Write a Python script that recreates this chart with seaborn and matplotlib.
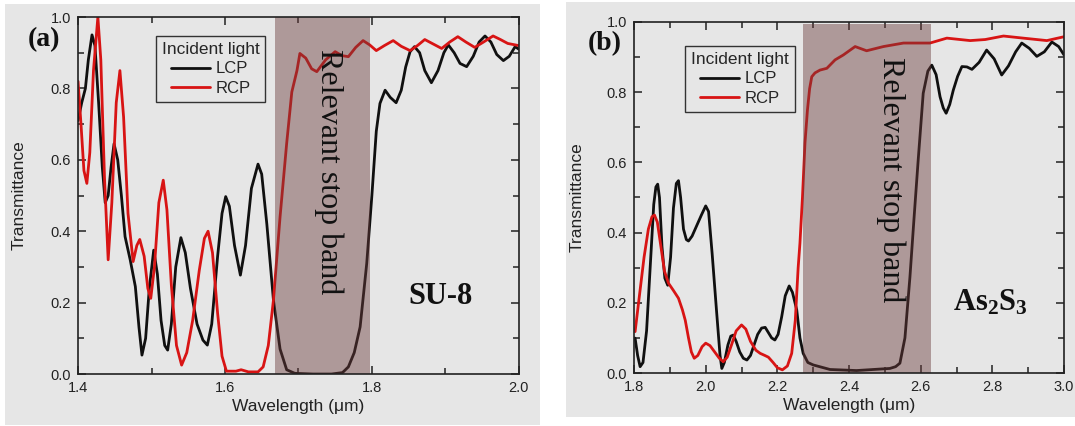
import numpy as np
import pandas as pd
import matplotlib
matplotlib.use("Agg")
import matplotlib.pyplot as plt
from matplotlib.patches import Rectangle
from matplotlib.ticker import MultipleLocator, FormatStrFormatter
import seaborn as sns

# ---- (a) SU-8 ----
wl_a_lcp = [1.400, 1.405, 1.410, 1.414, 1.419, 1.423, 1.428, 1.433, 1.437, 1.441, 1.445,
            1.449, 1.454, 1.459, 1.464, 1.471, 1.478, 1.483, 1.487, 1.492, 1.497, 1.503,
            1.508, 1.513, 1.518, 1.522, 1.527, 1.533, 1.540, 1.546, 1.553, 1.562, 1.570,
            1.576, 1.582, 1.590, 1.596, 1.601, 1.606, 1.613, 1.621, 1.628, 1.636, 1.645,
            1.650, 1.657, 1.666, 1.675, 1.684, 1.695, 1.720, 1.745, 1.760, 1.768, 1.776,
            1.784, 1.793, 1.800, 1.806, 1.811, 1.818, 1.825, 1.833, 1.840, 1.846, 1.852,
            1.858, 1.865, 1.872, 1.881, 1.890, 1.898, 1.904, 1.912, 1.920, 1.929, 1.938,
            1.946, 1.954, 1.962, 1.970, 1.979, 1.987, 1.995, 2.000]
t_a_lcp = [0.71, 0.76, 0.80, 0.88, 0.95, 0.92, 0.76, 0.58, 0.48, 0.50, 0.58,
           0.645, 0.60, 0.50, 0.385, 0.32, 0.245, 0.13, 0.053, 0.10, 0.24, 0.347,
           0.28, 0.15, 0.08, 0.067, 0.14, 0.30, 0.382, 0.34, 0.24, 0.14, 0.095,
           0.081, 0.14, 0.33, 0.45, 0.497, 0.47, 0.36, 0.277, 0.36, 0.52, 0.588,
           0.56, 0.42, 0.207, 0.07, 0.012, 0.002, 0.0, 0.0, 0.004, 0.02, 0.06,
           0.132, 0.31, 0.50, 0.68, 0.758, 0.795, 0.775, 0.76, 0.795, 0.86, 0.903,
           0.917, 0.90, 0.85, 0.816, 0.85, 0.90, 0.922, 0.90, 0.87, 0.861, 0.89,
           0.93, 0.947, 0.93, 0.895, 0.878, 0.89, 0.917, 0.91]

wl_a_rcp = [1.400, 1.404, 1.408, 1.412, 1.416, 1.421, 1.427, 1.431, 1.436, 1.441, 1.446,
            1.452, 1.457, 1.462, 1.468, 1.475, 1.480, 1.484, 1.490, 1.495, 1.499, 1.504,
            1.510, 1.516, 1.521, 1.527, 1.534, 1.541, 1.548, 1.556, 1.565, 1.572, 1.577,
            1.583, 1.590, 1.596, 1.602, 1.615, 1.622, 1.632, 1.645, 1.652, 1.659, 1.666,
            1.675, 1.684, 1.691, 1.698, 1.702, 1.710, 1.718, 1.725, 1.737, 1.750, 1.759,
            1.768, 1.778, 1.788, 1.797, 1.806, 1.817, 1.829, 1.840, 1.852, 1.862, 1.872,
            1.883, 1.895, 1.906, 1.917, 1.928, 1.940, 1.952, 1.965, 1.975, 1.985, 2.000]
t_a_rcp = [0.82, 0.70, 0.57, 0.534, 0.62, 0.85, 1.0, 0.88, 0.55, 0.32, 0.48,
           0.76, 0.85, 0.72, 0.45, 0.315, 0.36, 0.377, 0.33, 0.24, 0.212, 0.30,
           0.48, 0.543, 0.46, 0.25, 0.08, 0.025, 0.06, 0.15, 0.29, 0.38, 0.40,
           0.34, 0.17, 0.05, 0.008, 0.008, 0.012, 0.006, 0.006, 0.02, 0.08, 0.207,
           0.44, 0.646, 0.79, 0.85, 0.898, 0.885, 0.855, 0.847, 0.88, 0.903, 0.892,
           0.889, 0.915, 0.934, 0.922, 0.906, 0.92, 0.934, 0.918, 0.906, 0.92, 0.937,
           0.925, 0.912, 0.93, 0.945, 0.93, 0.915, 0.93, 0.947, 0.937, 0.926, 0.92]

# ---- (b) As2S3 ----
wl_b_lcp = [1.800, 1.803, 1.810, 1.817, 1.825, 1.835, 1.845, 1.855, 1.861, 1.866, 1.871,
            1.878, 1.886, 1.894, 1.902, 1.910, 1.918, 1.924, 1.930, 1.938, 1.946, 1.952,
            1.962, 1.975, 1.988, 2.000, 2.008, 2.018, 2.030, 2.040, 2.045, 2.052, 2.062,
            2.070, 2.077, 2.085, 2.095, 2.105, 2.115, 2.125, 2.135, 2.145, 2.156, 2.166,
            2.175, 2.184, 2.193, 2.202, 2.212, 2.222, 2.233, 2.242, 2.254, 2.263, 2.272,
            2.285, 2.300, 2.347, 2.421, 2.514, 2.530, 2.542, 2.556, 2.570, 2.582, 2.593,
            2.607, 2.620, 2.631, 2.643, 2.654, 2.663, 2.671, 2.681, 2.691, 2.703, 2.715,
            2.729, 2.743, 2.763, 2.784, 2.805, 2.826, 2.845, 2.865, 2.882, 2.903, 2.924,
            2.945, 2.966, 2.985, 3.000]
t_b_lcp = [0.10, 0.099, 0.05, 0.018, 0.03, 0.12, 0.30, 0.48, 0.53, 0.538, 0.50,
           0.36, 0.27, 0.25, 0.33, 0.47, 0.54, 0.548, 0.50, 0.41, 0.38, 0.376,
           0.39, 0.42, 0.45, 0.476, 0.46, 0.34, 0.18, 0.05, 0.013, 0.03, 0.08,
           0.105, 0.108, 0.09, 0.06, 0.042, 0.037, 0.05, 0.08, 0.11, 0.128, 0.13,
           0.115, 0.10, 0.094, 0.11, 0.16, 0.22, 0.248, 0.23, 0.18, 0.10, 0.056,
           0.03, 0.023, 0.01, 0.007, 0.013, 0.018, 0.028, 0.10, 0.274, 0.45, 0.607,
           0.797, 0.86, 0.877, 0.85, 0.787, 0.755, 0.74, 0.765, 0.806, 0.845, 0.873,
           0.872, 0.865, 0.885, 0.92, 0.895, 0.849, 0.875, 0.915, 0.94, 0.925, 0.902,
           0.915, 0.943, 0.93, 0.906]

wl_b_rcp = [1.800, 1.803, 1.815, 1.828, 1.840, 1.850, 1.857, 1.865, 1.875, 1.885, 1.896,
            1.910, 1.924, 1.935, 1.943, 1.952, 1.960, 1.968, 1.978, 1.990, 2.000, 2.012,
            2.025, 2.038, 2.049, 2.060, 2.072, 2.085, 2.100, 2.112, 2.125, 2.140, 2.152,
            2.165, 2.175, 2.188, 2.200, 2.214, 2.228, 2.240, 2.250, 2.258, 2.263, 2.270,
            2.277, 2.284, 2.290, 2.296, 2.305, 2.319, 2.338, 2.361, 2.384, 2.417, 2.449,
            2.496, 2.552, 2.626, 2.673, 2.738, 2.780, 2.831, 2.886, 2.952, 3.000]
t_b_rcp = [0.12, 0.118, 0.22, 0.33, 0.41, 0.445, 0.45, 0.43, 0.36, 0.29, 0.256,
           0.235, 0.213, 0.18, 0.15, 0.10, 0.06, 0.042, 0.05, 0.075, 0.085, 0.078,
           0.06, 0.042, 0.032, 0.045, 0.08, 0.12, 0.137, 0.125, 0.09, 0.065, 0.056,
           0.05, 0.045, 0.03, 0.015, 0.009, 0.02, 0.056, 0.15, 0.30, 0.37, 0.50,
           0.655, 0.75, 0.81, 0.844, 0.855, 0.863, 0.868, 0.892, 0.906, 0.93, 0.918,
           0.93, 0.94, 0.94, 0.954, 0.947, 0.95, 0.96, 0.954, 0.947, 0.958]

band_a = (1.668, 1.798)
band_b = (2.271, 2.628)

series_labels = ["LCP", "RCP"]
series_colors = ["#101010", "#d81414"]

PANEL_GRAY = "#e6e6e6"
SANS = "Liberation Sans"
SERIF = "Liberation Serif"

sns.set_style("ticks")
plt.rcParams["font.family"] = [SANS, "DejaVu Sans"]
plt.rcParams["mathtext.fontset"] = "custom"
plt.rcParams["mathtext.bf"] = "Liberation Serif:bold"
plt.rcParams["mathtext.rm"] = "Liberation Serif"

fig = plt.figure(figsize=(10.75, 4.26), dpi=100, facecolor="white")

# gray panel backgrounds
fig.patches.append(Rectangle((0.0047, 0.0023), 0.4977, 0.988, transform=fig.transFigure,
                             facecolor=PANEL_GRAY, edgecolor="none", zorder=-10))
fig.patches.append(Rectangle((0.5265, 0.0211), 0.4735, 0.974, transform=fig.transFigure,
                             facecolor=PANEL_GRAY, edgecolor="none", zorder=-10))

ax_a = fig.add_axes([0.0726, 0.122, 0.410, 0.838])
ax_b = fig.add_axes([0.5898, 0.1244, 0.400, 0.824])


def make_frame(wl_l, t_l, wl_r, t_r):
    d1 = pd.DataFrame({"wavelength": wl_l, "T": t_l, "light": series_labels[0]})
    d2 = pd.DataFrame({"wavelength": wl_r, "T": t_r, "light": series_labels[1]})
    return pd.concat([d1, d2], ignore_index=True)


def draw_panel(ax, df, xlim, band, band_top, legend_anchor, letter, letter_xy,
               band_text_xy, material, material_xy, ylabelpad):
    ax.set_facecolor(PANEL_GRAY)
    sns.lineplot(data=df, x="wavelength", y="T", hue="light", hue_order=series_labels,
                 palette=series_colors, estimator=None, sort=False, linewidth=2.0,
                 ax=ax)
    leg = ax.get_legend()
    handles = leg.legend_handles
    labels = [t.get_text() for t in leg.get_texts()]
    leg.remove()
    lg = ax.legend(handles, labels, title="Incident light", loc="upper left",
                   bbox_to_anchor=legend_anchor, borderaxespad=0, frameon=True,
                   fancybox=False, edgecolor="#333333", facecolor=PANEL_GRAY,
                   framealpha=1, fontsize=12, title_fontsize=12.5, handlelength=2.35,
                   handletextpad=0.3, labelspacing=0.28, borderpad=0.35)
    lg.get_frame().set_linewidth(1.0)
    lg.set_zorder(6)

    ax.axvspan(band[0], band[1], ymin=0, ymax=band_top, color="#6b3b3b", alpha=0.45,
               lw=0, zorder=3)
    ax.text(band_text_xy[0], band_text_xy[1], "Relevant stop band", rotation=-90,
            ha="center", va="center", fontsize=23, family=SERIF, color="#111111",
            zorder=5)
    ax.text(material_xy[0], material_xy[1], material, ha="center", va="center",
            fontsize=22, family=SERIF, fontweight="bold", color="#111111", zorder=5)
    fig.text(letter_xy[0], letter_xy[1], letter, ha="center", va="center",
             fontsize=20, family=SERIF, fontweight="bold", color="#111111", zorder=10)

    ax.set_xlim(*xlim)
    ax.set_ylim(0.0, 1.0)
    ax.xaxis.set_major_locator(MultipleLocator(0.2))
    ax.xaxis.set_minor_locator(MultipleLocator(0.1))
    ax.yaxis.set_major_locator(MultipleLocator(0.2))
    ax.yaxis.set_minor_locator(MultipleLocator(0.1))
    ax.xaxis.set_major_formatter(FormatStrFormatter("%.1f"))
    ax.yaxis.set_major_formatter(FormatStrFormatter("%.1f"))
    ax.tick_params(which="both", direction="in", top=True, right=True, width=1.1,
                   color="#222222")
    ax.tick_params(which="major", length=6, labelsize=10.5, pad=5, labelcolor="#222222")
    ax.tick_params(which="minor", length=4)
    for sp in ax.spines.values():
        sp.set_visible(True)
        sp.set_linewidth(1.2)
        sp.set_color("#222222")
        sp.set_zorder(7)
    ax.set_xlabel("Wavelength (\u03bcm)", fontsize=12.5, color="#222222", labelpad=3)
    ax.set_ylabel("Transmittance", fontsize=12.5, color="#222222", labelpad=ylabelpad)


df_a = make_frame(wl_a_lcp, t_a_lcp, wl_a_rcp, t_a_rcp)
df_b = make_frame(wl_b_lcp, t_b_lcp, wl_b_rcp, t_b_rcp)

draw_panel(ax_a, df_a, (1.4, 2.0), band_a, 1.0, (0.177, 0.947), "(a)", (0.041, 0.908),
           (1.741, 0.567), "SU-8", (1.894, 0.216), 17)
draw_panel(ax_b, df_b, (1.8, 3.0), band_b, 0.993, (0.119, 0.932), "(b)", (0.563, 0.897),
           (2.516, 0.55), r"$\mathbf{As_2S_3}$", (2.795, 0.2), 16)

fig.savefig("out.png", dpi=100, facecolor="white")
